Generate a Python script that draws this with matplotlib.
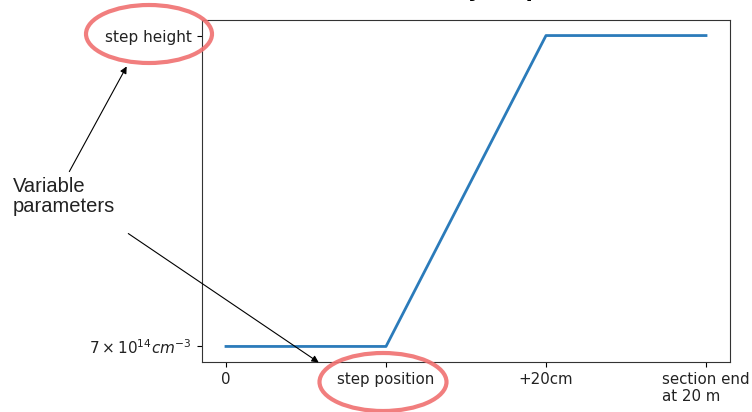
import matplotlib.pyplot as plt
from matplotlib.patches import Ellipse

W, H = 752, 412

positions = [0, 1, 2, 3]
density = [0, 0, 1, 1]
x_labels = ['0', 'step position', '+20cm', 'section end\nat 20 m']
y_ticks = [0, 1]
y_labels = [r'$7\times10^{14}cm^{-3}$', 'step height']
title = 'Density step'
note = 'Variable\nparameters'


def fp(x, y):
    # pixel (from top-left) -> figure fraction
    return x / W, 1 - y / H


fig = plt.figure(figsize=(W / 100, H / 100), dpi=100)
ax = fig.add_axes([202 / W, 50 / H, 528 / W, 342 / H])

ax.plot(positions, density, color='#2b7bba', lw=2)
ax.set_xticks(positions)
ax.set_xticklabels(x_labels, fontsize=10.8, color='#222222')
for lab in ax.get_xticklabels():
    lab.set_multialignment('left')
ax.set_yticks(y_ticks)
ax.set_yticklabels(y_labels, fontsize=11, color='#222222')
for sp in ax.spines.values():
    sp.set_color('#333333')

# title mostly cut off at the top edge, as in the source image
fig.text(0.62, 1.007, title, ha='center', va='baseline', fontsize=15, fontweight='bold')

red = '#f07070'
for cx, cy, w, h in [(149, 34, 126, 58), (383, 382, 127, 58)]:
    cxf, cyf = fp(cx, cy)
    fig.add_artist(Ellipse((cxf, cyf), w / W, h / H, transform=fig.transFigure,
                           fill=False, edgecolor=red, lw=3, alpha=0.9))

fig.text(*fp(13, 177), note, ha='left', va='top', fontsize=14.5,
         family='Liberation Sans', color='#222222', linespacing=1.05)

arrow = dict(arrowstyle='-|>', color='black', lw=0.8, mutation_scale=10)
ax.annotate('', xy=fp(128, 64), xytext=fp(68, 174), xycoords='figure fraction',
            textcoords='figure fraction', arrowprops=arrow, annotation_clip=False)
ax.annotate('', xy=fp(321, 364), xytext=fp(126, 232), xycoords='figure fraction',
            textcoords='figure fraction', arrowprops=arrow, annotation_clip=False)

fig.savefig('out.png', dpi=100)
